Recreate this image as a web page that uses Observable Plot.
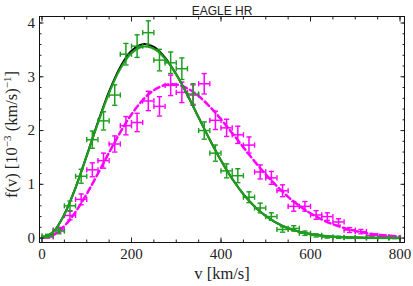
<!DOCTYPE html>
<html><head><meta charset="utf-8">
<script src="https://cdn.jsdelivr.net/npm/d3@7"></script>
<script src="https://cdn.jsdelivr.net/npm/@observablehq/plot@0.6"></script>
<style>body{margin:0;background:#fff} svg{display:block}</style>
</head><body><div id="chart"></div>
<script>
const title = "EAGLE HR";
const xLabel = "v [km/s]";
const binCenters = [12.5,37.5,62.5,87.5,112.5,137.5,162.5,187.5,212.5,237.5,262.5,287.5,312.5,337.5,362.5,387.5,412.5,437.5,462.5,487.5,512.5,537.5,562.5,587.5,612.5,637.5,662.5,687.5,712.5,737.5,762.5,787.5];
const binHalfWidth = 12.5;
const greenValues = [0.04,0.13,0.60,1.15,1.83,2.18,2.66,3.42,3.57,3.82,3.31,3.26,3.15,2.68,2.00,1.58,1.25,1.16,0.76,0.56,0.40,0.16,0.18,0.09,0.05,0.02,0.015,0.01,0.006,0.004,0.003,0.002];
const greenErrors = [0.03,0.05,0.09,0.13,0.16,0.17,0.19,0.20,0.21,0.22,0.20,0.20,0.20,0.19,0.16,0.15,0.13,0.13,0.10,0.09,0.07,0.05,0.05,0.04,0.03,0.02,0.02,0.015,0.01,0.01,0.01,0.01];
const magentaValues = [0.02,0.15,0.42,0.72,1.27,1.44,1.75,2.09,2.15,2.55,2.45,2.84,2.71,2.66,2.87,2.19,2.05,1.92,1.73,1.23,1.12,0.88,0.59,0.59,0.43,0.40,0.30,0.15,0.12,0.05,0.03,0.015];
const magentaErrors = [0.02,0.05,0.08,0.10,0.13,0.14,0.15,0.17,0.17,0.18,0.18,0.19,0.19,0.19,0.19,0.17,0.16,0.16,0.15,0.13,0.12,0.11,0.09,0.09,0.08,0.07,0.06,0.045,0.04,0.03,0.02,0.015];
const curveV = [0,25,50,75,100,125,150,175,200,225,250,275,300,325,350,375,400,425,450,475,500,525,550,575,600,625,650,675,700,725,750,775,800];
const blackCurve = [0,0.115,0.442,0.938,1.535,2.157,2.728,3.184,3.483,3.606,3.557,3.358,3.046,2.660,2.242,1.828,1.442,1.103,0.817,0.588,0.411,0.279,0.184,0.118,0.074,0.045,0.027,0.015,0.009,0.005,0.003,0.001,0.001];
const greenCurve = [0,0.115,0.442,0.938,1.530,2.140,2.700,3.150,3.440,3.560,3.520,3.335,3.040,2.660,2.242,1.828,1.442,1.103,0.817,0.588,0.411,0.279,0.184,0.118,0.074,0.045,0.027,0.015,0.009,0.005,0.003,0.001,0.001];
const magentaCurve = [0,0.057,0.225,0.487,0.822,1.201,1.593,1.969,2.300,2.566,2.751,2.847,2.856,2.784,2.641,2.444,2.209,1.952,1.687,1.427,1.184,0.963,0.767,0.600,0.461,0.347,0.257,0.187,0.134,0.094,0.065,0.044,0.029];
const xMajorTicks = [0,200,400,600,800];
const xMinorTicks = [0,50,100,150,200,250,300,350,400,450,500,550,600,650,700,750,800];
const yMajorTicks = [0,1,2,3,4];
const yMinorTicks = [0,0.2,0.4,0.6,0.8,1,1.2,1.4,1.6,1.8,2,2.2,2.4,2.6,2.8,3,3.2,3.4,3.6,3.8,4];

const GREEN = "#1e9e1e", MAGENTA = "#ff00ff";
const serif = "'Liberation Serif', 'DejaVu Serif', serif";
const sans = "'Liberation Sans', Arial, sans-serif";

const green = binCenters.map((v,i)=>({v, y: greenValues[i], e: greenErrors[i]}));
const magenta = binCenters.map((v,i)=>({v, y: magentaValues[i], e: magentaErrors[i]}));
const curves = curveV.map((v,i)=>({v, b: blackCurve[i], g: greenCurve[i], m: magentaCurve[i]}));

const hCap = {draw(ctx, size){ const r = Math.sqrt(size/Math.PI); ctx.moveTo(-r,0); ctx.lineTo(r,0); }};
const vCap = {draw(ctx, size){ const r = Math.sqrt(size/Math.PI); ctx.moveTo(0,-r); ctx.lineTo(0,r); }};

function errorMarks(data, color){
  return [
    Plot.ruleX(data, {x: "v", y1: d=>d.y-d.e, y2: d=>d.y+d.e, stroke: color, strokeWidth: 1.5}),
    Plot.ruleY(data, {y: "y", x1: d=>d.v-binHalfWidth, x2: d=>d.v+binHalfWidth, stroke: color, strokeWidth: 1.5}),
    Plot.dot(data, {x: "v", y: d=>d.y+d.e, symbol: hCap, r: 2.6, stroke: color, fill: "none", strokeWidth: 1.4}),
    Plot.dot(data, {x: "v", y: d=>d.y-d.e, symbol: hCap, r: 2.6, stroke: color, fill: "none", strokeWidth: 1.4}),
    Plot.dot(data, {x: d=>d.v-binHalfWidth, y: "y", symbol: vCap, r: 2.6, stroke: color, fill: "none", strokeWidth: 1.4}),
    Plot.dot(data, {x: d=>d.v+binHalfWidth, y: "y", symbol: vCap, r: 2.6, stroke: color, fill: "none", strokeWidth: 1.4})
  ];
}

const noText = () => "";
const chart = Plot.plot({
  width: 413, height: 286,
  marginTop: 16, marginRight: 9, marginBottom: 44, marginLeft: 39,
  style: {fontFamily: serif, background: "#fff"},
  x: {domain: [-5.6, 810], label: null},
  y: {domain: [-0.082, 4.121], label: null},
  marks: [
    Plot.line(curves, {x: "v", y: "m", stroke: MAGENTA, strokeWidth: 2.5, strokeDasharray: "6,3.5", curve: "catmull-rom"}),
    ...errorMarks(magenta, MAGENTA),
    Plot.line(curves, {x: "v", y: "b", stroke: "black", strokeWidth: 2, curve: "catmull-rom"}),
    Plot.line(curves, {x: "v", y: "g", stroke: GREEN, strokeWidth: 2.2, strokeDasharray: "6.5,1.5", curve: "catmull-rom"}),
    ...errorMarks(green, GREEN),
    Plot.axisX(xMinorTicks, {anchor: "bottom", tickSize: -2.5, tickFormat: noText, stroke: "#222"}),
    Plot.axisX(xMajorTicks, {anchor: "bottom", tickSize: -4.5, tickPadding: 10, fontSize: 15, fontFamily: serif, fill: "#222", tickFormat: d=>String(d), stroke: "#222"}),
    Plot.axisX(xMinorTicks, {anchor: "top", tickSize: -2.5, tickFormat: noText, stroke: "#222"}),
    Plot.axisX(xMajorTicks, {anchor: "top", tickSize: -4.5, tickFormat: noText, stroke: "#222"}),
    Plot.axisY(yMinorTicks, {anchor: "left", tickSize: -2.5, tickFormat: noText, stroke: "#222"}),
    Plot.axisY(yMajorTicks, {anchor: "left", tickSize: -4.5, tickPadding: 9, fontSize: 15, fontFamily: serif, fill: "#222", tickFormat: d=>String(d), stroke: "#222"}),
    Plot.axisY(yMinorTicks, {anchor: "right", tickSize: -2.5, tickFormat: noText, stroke: "#222"}),
    Plot.axisY(yMajorTicks, {anchor: "right", tickSize: -4.5, tickFormat: noText, stroke: "#222"}),
    Plot.frame({stroke: "#111", strokeWidth: 1}),
    Plot.text([title], {frameAnchor: "top", dy: -10, fontSize: 12, fontFamily: sans, fill: "#222"}),
    Plot.text([xLabel], {frameAnchor: "bottom", dy: 36, fontSize: 16.5, fontFamily: serif, fill: "#222"})
  ]
});
document.getElementById("chart").append(chart);

// Rotated y-axis label with superscripts
const svg = d3.select(chart);
const yl = svg.append("text")
  .attr("transform", "translate(17,134.5) rotate(-90)")
  .attr("text-anchor", "middle")
  .style("font-family", serif)
  .style("font-size", "16.5px")
  .attr("fill", "#222");
yl.append("tspan").text("f(v) [10");
yl.append("tspan").attr("dy", -6).style("font-size", "11px").text("\u22123");
yl.append("tspan").attr("dy", 6).text(" (km/s)");
yl.append("tspan").attr("dy", -6).style("font-size", "11px").text("\u22121");
yl.append("tspan").attr("dy", 6).text("]");
</script>
</body></html>
